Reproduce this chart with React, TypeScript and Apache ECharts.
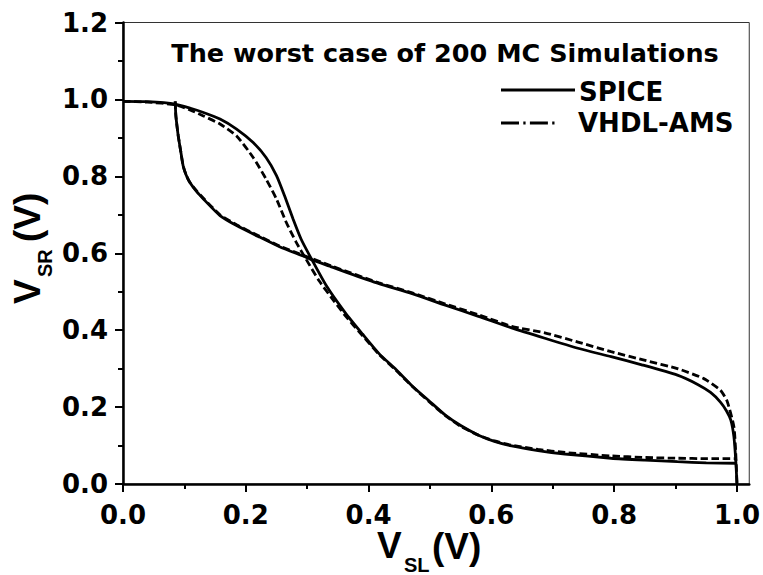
import React, { useEffect, useRef } from "react";
import * as echarts from "echarts";

// ---------- data ----------
const xMajorTicks = [0, 0.2, 0.4, 0.6, 0.8, 1.0];
const xMinorTicks = [0.1, 0.3, 0.5, 0.7, 0.9];
const chartTitle = "The worst case of 200 MC Simulations";
const legendNames = ["SPICE", "VHDL-AMS"];

// SPICE, VTC of inverter 1 (V_SR as function of V_SL)
const spiceA: [number, number][] = [
  [0, 0.995], [0.04, 0.994], [0.085, 0.988], [0.11, 0.977], [0.131, 0.966],
  [0.158, 0.949], [0.185, 0.923], [0.212, 0.888], [0.233, 0.849], [0.25, 0.802],
  [0.263, 0.75], [0.277, 0.689], [0.29, 0.637], [0.304, 0.594], [0.331, 0.516],
  [0.363, 0.443], [0.39, 0.39], [0.417, 0.339], [0.445, 0.297], [0.471, 0.255],
  [0.5, 0.214], [0.525, 0.179], [0.55, 0.152], [0.579, 0.127], [0.605, 0.111],
  [0.633, 0.099], [0.676, 0.087], [0.72, 0.078], [0.795, 0.067], [0.85, 0.062],
  [0.903, 0.058], [0.95, 0.055], [0.998, 0.054],
];
// SPICE, VTC of inverter 2 (mirrored)
const spiceB: [number, number][] = [
  [0.085, 0.995], [0.086, 0.96], [0.088, 0.93], [0.09, 0.905], [0.094, 0.865],
  [0.098, 0.827], [0.103, 0.803], [0.109, 0.784], [0.12, 0.76], [0.131, 0.741],
  [0.158, 0.698], [0.185, 0.672], [0.2225, 0.642], [0.255, 0.617], [0.298, 0.59],
  [0.309, 0.582], [0.341, 0.564], [0.363, 0.551], [0.417, 0.521], [0.471, 0.495],
  [0.525, 0.465], [0.579, 0.436], [0.633, 0.406], [0.687, 0.379], [0.741, 0.353],
  [0.795, 0.331], [0.845, 0.31], [0.903, 0.283], [0.936, 0.259], [0.957, 0.238],
  [0.973, 0.213], [0.983, 0.19], [0.99, 0.166], [0.995, 0.123], [0.998, 0.062],
  [1.0, 0.0],
];
// VHDL-AMS, inverter 1
const vhdlA: [number, number][] = [
  [0, 0.995], [0.04, 0.993], [0.085, 0.986], [0.11, 0.972], [0.131, 0.957],
  [0.158, 0.936], [0.185, 0.905], [0.212, 0.849], [0.233, 0.793], [0.25, 0.741],
  [0.266, 0.68], [0.282, 0.629], [0.298, 0.585], [0.32, 0.527], [0.345, 0.473],
  [0.363, 0.436], [0.39, 0.386], [0.417, 0.337], [0.445, 0.295], [0.471, 0.254],
  [0.5, 0.212], [0.525, 0.178], [0.55, 0.15], [0.579, 0.127], [0.605, 0.112],
  [0.633, 0.101], [0.676, 0.09], [0.72, 0.082], [0.795, 0.073], [0.85, 0.069],
  [0.903, 0.067], [0.95, 0.066], [0.998, 0.066],
];
// VHDL-AMS, inverter 2 (mirrored)
const vhdlB: [number, number][] = [
  [0.085, 0.995], [0.086, 0.96], [0.088, 0.93], [0.09, 0.905], [0.094, 0.865],
  [0.098, 0.827], [0.103, 0.803], [0.109, 0.784], [0.12, 0.762], [0.131, 0.743],
  [0.158, 0.7], [0.185, 0.674], [0.2225, 0.644], [0.255, 0.619], [0.298, 0.592],
  [0.341, 0.566], [0.417, 0.523], [0.471, 0.497], [0.525, 0.468], [0.579, 0.44],
  [0.633, 0.41], [0.687, 0.393], [0.741, 0.369], [0.795, 0.344], [0.849, 0.322],
  [0.903, 0.3], [0.946, 0.274], [0.973, 0.244], [0.984, 0.215], [0.995, 0.149],
  [0.998, 0.08], [1.0, 0.0],
];

const DJ = "'DejaVu Sans', sans-serif";
const AR = "'Liberation Sans', Arial, sans-serif";

export default function App() {
  const ref = useRef<HTMLDivElement>(null);
  useEffect(() => {
    if (!ref.current) return;
    const chart = echarts.init(ref.current, undefined, { renderer: "svg" });
    const labelStyle = { color: "#000", fontFamily: DJ, fontWeight: "bold" as const, fontSize: 26 };
    const axisLineStyle = { color: "#000", width: 2.5 };
    const tickLine = { color: "#000", width: 2 };
    const solid = { color: "#000", width: 2.8, type: "solid" as const };
    const dashed = { color: "#000", width: 2.8, type: [7.5, 3.5] as any };
    const mk = (name: string, data: [number, number][], ls: any) => ({
      type: "line", name, data, showSymbol: false, symbol: "none", smooth: 0.2,
      lineStyle: ls, itemStyle: { color: "#000" }, xAxisIndex: 0, yAxisIndex: 0,
    });
    const option: any = {
      animation: false,
      backgroundColor: "#fff",
      grid: { left: 123, right: 11, top: 22.5, bottom: 91, show: true, borderColor: "#333", borderWidth: 1, backgroundColor: "transparent" },
      xAxis: [
        {
          type: "value", min: 0, max: 1.02, interval: 0.2, position: "bottom",
          axisLine: { show: true, onZero: false, lineStyle: axisLineStyle },
          axisTick: { show: true, inside: false, length: 8, customValues: xMajorTicks, lineStyle: tickLine },
          axisLabel: { show: true, customValues: xMajorTicks, margin: 18, formatter: (v: number) => v.toFixed(1), ...labelStyle },
          splitLine: { show: false }, minorTick: { show: false },
        },
        {
          type: "value", min: 0, max: 1.02, position: "bottom",
          axisLine: { show: false },
          axisTick: { show: true, inside: false, length: 5, customValues: xMinorTicks, lineStyle: tickLine },
          axisLabel: { show: false }, splitLine: { show: false },
        },
      ],
      yAxis: {
        type: "value", min: 0, max: 1.2, interval: 0.2,
        axisLine: { show: true, onZero: false, lineStyle: axisLineStyle },
        axisTick: { show: true, inside: false, length: 8, lineStyle: tickLine },
        minorTick: { show: true, splitNumber: 2, length: 5, lineStyle: tickLine },
        axisLabel: { margin: 15, formatter: (v: number) => v.toFixed(1), ...labelStyle },
        splitLine: { show: false },
      },
      series: [
        mk(legendNames[0], spiceA, solid),
        mk(legendNames[0], spiceB, solid),
        mk(legendNames[1], vhdlA, dashed),
        mk(legendNames[1], vhdlB, dashed),
      ],
      graphic: [
        { type: "text", x: 445, y: 53, style: { text: chartTitle, fill: "#000", fontFamily: DJ, fontWeight: "bold", fontSize: 25.5, align: "center", verticalAlign: "middle" } },
        { type: "line", shape: { x1: 501, y1: 90, x2: 575, y2: 90 }, style: { stroke: "#000", lineWidth: 2.8 } },
        { type: "text", x: 579, y: 92, style: { text: legendNames[0], fill: "#000", fontFamily: DJ, fontWeight: "bold", fontSize: 26, align: "left", verticalAlign: "middle" } },
        { type: "line", shape: { x1: 501, y1: 123, x2: 556, y2: 123 }, style: { stroke: "#000", lineWidth: 2.8, lineDash: [18, 4.3, 2.3, 4.3] } },
        { type: "text", x: 578, y: 123, style: { text: legendNames[1], fill: "#000", fontFamily: DJ, fontWeight: "bold", fontSize: 26, align: "left", verticalAlign: "middle" } },
        // x axis title V_SL(V)
        { type: "text", x: 377, y: 545, style: { text: "V", fill: "#000", fontFamily: AR, fontWeight: "bold", fontSize: 37, align: "left", verticalAlign: "middle" } },
        { type: "text", x: 404, y: 565, style: { text: "SL", fill: "#000", fontFamily: AR, fontWeight: "bold", fontSize: 20, align: "left", verticalAlign: "middle" } },
        { type: "text", x: 432, y: 546, style: { text: "(V)", fill: "#000", fontFamily: AR, fontWeight: "bold", fontSize: 37, align: "left", verticalAlign: "middle" } },
        // y axis title V_SR(V)
        { type: "text", x: 27, y: 304, rotation: Math.PI / 2, style: { text: "V", fill: "#000", fontFamily: AR, fontWeight: "bold", fontSize: 37, align: "left", verticalAlign: "middle" } },
        { type: "text", x: 45, y: 277, rotation: Math.PI / 2, style: { text: "SR", fill: "#000", fontFamily: AR, fontWeight: "bold", fontSize: 20, align: "left", verticalAlign: "middle" } },
        { type: "text", x: 27, y: 242, rotation: Math.PI / 2, style: { text: "(V)", fill: "#000", fontFamily: AR, fontWeight: "bold", fontSize: 37, align: "left", verticalAlign: "middle" } },
      ],
    };
    chart.setOption(option);
    return () => chart.dispose();
  }, []);
  return <div ref={ref} style={{ position: "absolute", left: 0, top: 0, width: 763, height: 575, background: "#fff" }} />;
}
